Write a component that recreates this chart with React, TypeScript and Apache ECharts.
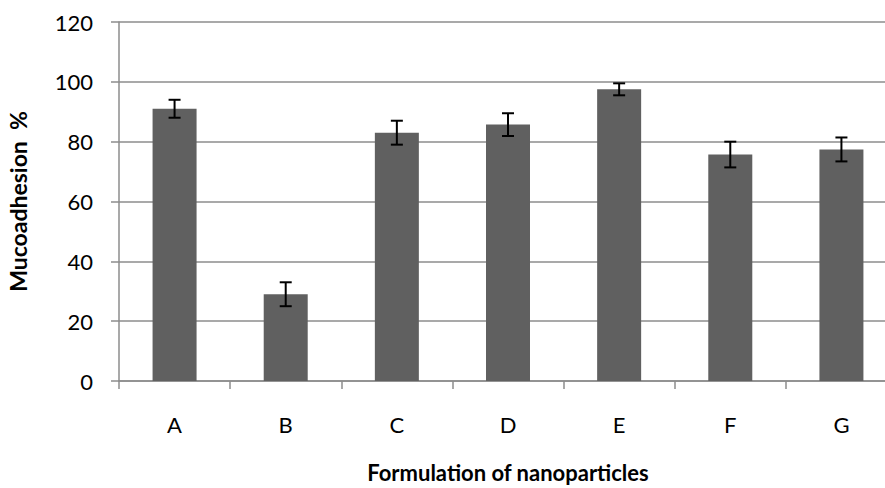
import React, { useEffect, useRef } from "react";
import * as echarts from "echarts";

const categories = ["A", "B", "C", "D", "E", "F", "G"];
const values = [91, 29, 83, 85.7, 97.5, 75.7, 77.4];
const errors = [3, 4, 4, 3.8, 2, 4.3, 4];
const yTicks = [0, 20, 40, 60, 80, 100, 120];

export default function App() {
  const ref = useRef<HTMLDivElement>(null);
  useEffect(() => {
    if (!ref.current) return;
    const chart = echarts.init(ref.current, null, { renderer: "svg" });
    const errData = values.map((v, i) => [i, v - errors[i], v + errors[i]]);
    chart.setOption({
      animation: false,
      grid: {
        left: 119,
        top: 22,
        width: 778,
        height: 359,
        containLabel: false,
        outerBoundsMode: "none",
      },
      xAxis: {
        type: "category",
        data: categories,
        name: "Formulation of nanoparticles",
        nameLocation: "middle",
        nameGap: 80,
        nameTextStyle: { fontFamily: "Lato", fontWeight: "bold", fontSize: 22, color: "#000" },
        axisLine: { lineStyle: { color: "#8c8c8c", width: 1.5 } },
        axisTick: { show: true, length: 8, lineStyle: { color: "#8c8c8c", width: 1.5 } },
        axisLabel: { margin: 32, fontFamily: "Lato", fontSize: 22, color: "#000" },
      },
      yAxis: {
        type: "value",
        min: 0,
        max: 120,
        interval: 20,
        name: "Mucoadhesion  %",
        nameLocation: "middle",
        nameGap: 90,
        nameTextStyle: { fontFamily: "Lato", fontWeight: "bold", fontSize: 23, color: "#000" },
        axisLine: { show: true, lineStyle: { color: "#8c8c8c", width: 1.5 } },
        axisTick: { show: true, length: 8, lineStyle: { color: "#8c8c8c", width: 1.5 } },
        axisLabel: {
          margin: 26,
          fontFamily: "Lato",
          fontSize: 22,
          color: "#000",
          formatter: (v: number) => (yTicks.includes(v) ? String(v) : ""),
        },
        splitLine: { show: true, lineStyle: { color: "#8c8c8c", width: 1.5 } },
      },
      series: [
        {
          type: "bar",
          data: values,
          barWidth: 44,
          itemStyle: { color: "#606060" },
        },
        {
          type: "custom",
          data: errData,
          z: 10,
          renderItem: (params: any, api: any) => {
            const x = api.value(0);
            const lo = api.coord([x, api.value(1)]);
            const hi = api.coord([x, api.value(2)]);
            const hw = 6;
            const style = { stroke: "#000", lineWidth: 2 };
            return {
              type: "group",
              children: [
                { type: "line", shape: { x1: hi[0], y1: hi[1], x2: lo[0], y2: lo[1] }, style },
                { type: "line", shape: { x1: hi[0] - hw, y1: hi[1], x2: hi[0] + hw, y2: hi[1] }, style },
                { type: "line", shape: { x1: lo[0] - hw, y1: lo[1], x2: lo[0] + hw, y2: lo[1] }, style },
              ],
            };
          },
        },
      ],
    });
    return () => chart.dispose();
  }, []);
  return (
    <div
      ref={ref}
      style={{ position: "absolute", left: 0, top: 0, width: 885, height: 488, background: "#fff" }}
    />
  );
}
